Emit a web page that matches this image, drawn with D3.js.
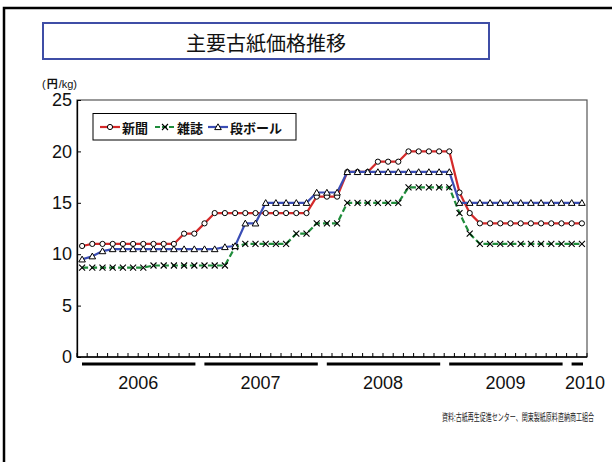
<!DOCTYPE html>
<html>
<head>
<meta charset="utf-8">
<script src="https://cdn.jsdelivr.net/npm/d3@7"></script>
<style>
  body { margin: 0; background: #fff; }
  svg { display: block; }
</style>
</head>
<body>
<div id="chart"></div>
<script>
// months Jan 2006 .. Feb 2010
const months = [
  "2006-01","2006-02","2006-03","2006-04","2006-05","2006-06","2006-07","2006-08","2006-09","2006-10","2006-11","2006-12",
  "2007-01","2007-02","2007-03","2007-04","2007-05","2007-06","2007-07","2007-08","2007-09","2007-10","2007-11","2007-12",
  "2008-01","2008-02","2008-03","2008-04","2008-05","2008-06","2008-07","2008-08","2008-09","2008-10","2008-11","2008-12",
  "2009-01","2009-02","2009-03","2009-04","2009-05","2009-06","2009-07","2009-08","2009-09","2009-10","2009-11","2009-12",
  "2010-01","2010-02"
]
const years = ["2006", "2007", "2008", "2009", "2010"]

// 新聞
const newspaper = [
  10.8, 11, 11, 11, 11, 11, 11, 11, 11, 11, 12, 12,
  13, 14, 14, 14, 14, 14, 14, 14, 14, 14, 14, 15.6,
  15.6, 15.6, 18, 18, 18, 19, 19, 19, 20, 20, 20, 20,
  20, 16, 14, 13, 13, 13, 13, 13, 13, 13, 13, 13,
  13, 13
]
// 雑誌
const magazine = [
  8.7, 8.7, 8.7, 8.7, 8.7, 8.7, 8.7, 8.9, 8.9, 8.9, 8.9, 8.9,
  8.9, 8.9, 8.9, 10.7, 11, 11, 11, 11, 11, 12, 12, 13,
  13, 13, 15, 15, 15, 15, 15, 15, 16.5, 16.5, 16.5, 16.5,
  16.5, 14, 12, 11, 11, 11, 11, 11, 11, 11, 11, 11,
  11, 11
]
// 段ボール
const cardboard = [
  9.5, 9.8, 10.3, 10.5, 10.5, 10.5, 10.5, 10.5, 10.5, 10.5, 10.5, 10.5,
  10.5, 10.5, 10.7, 10.8, 13, 13, 15, 15, 15, 15, 15, 16,
  16, 16, 18, 18, 18, 18, 18, 18, 18, 18, 18, 18,
  18, 15, 15, 15, 15, 15, 15, 15, 15, 15, 15, 15,
  15, 15
]
const yTicks = [0, 5, 10, 15, 20, 25]

const series = [
  {name: "新聞", values: newspaper, color: "#d42a2a", marker: "circle", dash: null},
  {name: "雑誌", values: magazine, color: "#1f8c3b", marker: "cross", dash: "6,3"},
  {name: "段ボール", values: cardboard, color: "#3a4db5", marker: "triangle", dash: null}
]

const width = 612
const height = 462
const margin = {top: 100, right: 25, bottom: 105, left: 77}
const numFont = "'Liberation Sans', Arial, sans-serif"
const cjkFont = "'Noto Sans CJK JP', 'Noto Sans', sans-serif"

const svg = d3.select("#chart").append("svg")
              .attr("width", width)
              .attr("height", height)

// outer frame
svg.append("rect")
   .attr("x", 4).attr("y", 8)
   .attr("width", width + 20).attr("height", height + 20)
   .attr("fill", "none")
   .attr("stroke", "#000")
   .attr("stroke-width", 2.5)

// title box
svg.append("rect")
   .attr("x", 43).attr("y", 23)
   .attr("width", 446).attr("height", 36)
   .attr("fill", "#fff")
   .attr("stroke", "#3f4ea6")
   .attr("stroke-width", 2)
svg.append("text")
   .attr("x", 266).attr("y", 42)
   .attr("text-anchor", "middle")
   .attr("dominant-baseline", "central")
   .attr("font-family", cjkFont)
   .attr("font-size", "20px")
   .attr("fill", "#111")
   .text("主要古紙価格推移")

// unit label: "(円/kg)" with bold yen, drawn as separate pieces
let ux = 42
const unitParts = [["(", "normal", numFont], ["円", "bold", cjkFont], ["/kg)", "normal", numFont]]
unitParts.forEach(([t, w, f]) => {
    const el = svg.append("text")
                  .attr("x", ux).attr("y", 88)
                  .attr("font-family", f)
                  .attr("font-weight", w)
                  .attr("font-size", "11px")
                  .attr("fill", "#111")
                  .text(t)
    ux += el.node().getComputedTextLength() + 1
})

// scales
const xScale = d3.scaleBand()
                 .domain(months)
                 .range([margin.left, width - margin.right])
const yScale = d3.scaleLinear()
                 .domain([0, 25])
                 .range([height - margin.bottom, margin.top])
const x = m => xScale(m) + xScale.bandwidth() / 2
const plotBottom = yScale(0)
const plotTop = yScale(25)

// plot frame
svg.append("rect")
   .attr("x", margin.left).attr("y", plotTop)
   .attr("width", xScale.range()[1] - margin.left)
   .attr("height", plotBottom - plotTop)
   .attr("fill", "none")
   .attr("stroke", "#555")
   .attr("stroke-width", 1.2)

// y axis
const yAxis = d3.axisLeft(yScale)
                .tickValues(yTicks)
                .tickSizeInner(-4)
                .tickSizeOuter(0)
                .tickPadding(5)
svg.append("g")
   .attr("transform", `translate(${margin.left}, 0)`)
   .call(yAxis)
   .call(g => g.select(".domain").attr("stroke", "#000").attr("stroke-width", 1.3))
   .call(g => g.selectAll("line").attr("stroke", "#000"))
   .call(g => g.selectAll("text")
               .attr("font-family", numFont)
               .attr("font-size", "18px")
               .attr("fill", "#111"))

// x axis: tick at every month boundary
const boundaries = months.map(m => xScale(m)).concat([xScale.range()[1]])
const xAxisG = svg.append("g")
xAxisG.append("line")
      .attr("x1", margin.left).attr("x2", xScale.range()[1])
      .attr("y1", plotBottom).attr("y2", plotBottom)
      .attr("stroke", "#000")
      .attr("stroke-width", 1.3)
xAxisG.selectAll(".mtick")
      .data(boundaries)
      .join("line")
      .attr("x1", d => d).attr("x2", d => d)
      .attr("y1", plotBottom).attr("y2", plotBottom - 4)
      .attr("stroke", "#000")

// year bars and labels
years.forEach(yr => {
    const ms = months.filter(m => m.startsWith(yr))
    const x0 = xScale(ms[0])
    const x1 = xScale(ms[ms.length - 1]) + xScale.bandwidth()
    xAxisG.append("line")
          .attr("x1", x0 + 5).attr("x2", x1 - 4)
          .attr("y1", plotBottom + 7).attr("y2", plotBottom + 7)
          .attr("stroke", "#000")
          .attr("stroke-width", 3)
    xAxisG.append("text")
          .attr("x", ms.length < 3 ? x1 - 2 : (x0 + x1) / 2)
          .attr("y", plotBottom + 26)
          .attr("text-anchor", "middle")
          .attr("dominant-baseline", "central")
          .attr("font-family", numFont)
          .attr("font-size", "18px")
          .attr("fill", "#111")
          .text(yr)
})

// markers
function drawMarker(g, type, cx, cy) {
    if (type === "circle") {
        g.append("circle")
         .attr("cx", cx).attr("cy", cy).attr("r", 2.6)
         .attr("fill", "#fff").attr("stroke", "#000").attr("stroke-width", 1)
    } else if (type === "triangle") {
        g.append("path")
         .attr("d", `M${cx},${cy - 3.2}L${cx + 3.3},${cy + 2.6}L${cx - 3.3},${cy + 2.6}Z`)
         .attr("fill", "#fff").attr("stroke", "#000").attr("stroke-width", 1)
    } else {
        g.append("path")
         .attr("d", `M${cx - 3},${cy - 3}L${cx + 3},${cy + 3}M${cx - 3},${cy + 3}L${cx + 3},${cy - 3}`)
         .attr("stroke", "#000").attr("stroke-width", 1.1)
    }
}

// lines
const line = d3.line()
               .x((d, i) => x(months[i]))
               .y(d => yScale(d))
series.forEach(s => {
    const g = svg.append("g")
    g.append("path")
     .attr("d", line(s.values))
     .attr("fill", "none")
     .attr("stroke", s.color)
     .attr("stroke-width", 2.2)
     .attr("stroke-dasharray", s.dash)
    s.values.forEach((v, i) => drawMarker(g, s.marker, x(months[i]), yScale(v)))
})

// legend
const legend = svg.append("g")
legend.append("rect")
      .attr("x", 93).attr("y", 113.5)
      .attr("width", 203).attr("height", 26.5)
      .attr("fill", "#fff")
      .attr("stroke", "#000")
      .attr("stroke-width", 1)
const legendX = [100, 155, 208]
series.forEach((s, i) => {
    const lx = legendX[i]
    const ly = 127
    legend.append("line")
          .attr("x1", lx).attr("x2", lx + 20)
          .attr("y1", ly).attr("y2", ly)
          .attr("stroke", s.color)
          .attr("stroke-width", 2.2)
          .attr("stroke-dasharray", s.dash ? "5,2" : null)
    drawMarker(legend, s.marker, lx + 10, ly)
    legend.append("text")
          .attr("x", lx + 22).attr("y", ly)
          .attr("dominant-baseline", "central")
          .attr("font-family", cjkFont)
          .attr("font-weight", "bold")
          .attr("font-size", "13px")
          .attr("fill", "#111")
          .text(s.name)
})

// source note (horizontally condensed as in the original)
const note = svg.append("text")
                .attr("x", 0).attr("y", 0)
                .attr("dominant-baseline", "central")
                .attr("font-family", cjkFont)
                .attr("font-size", "10px")
                .attr("fill", "#222")
                .text("資料:古紙再生促進センター、関東製紙原料直納商工組合")
const noteW = note.node().getComputedTextLength()
note.attr("transform", `translate(442, 416) scale(${152 / noteW}, 1)`)
</script>
</body>
</html>
